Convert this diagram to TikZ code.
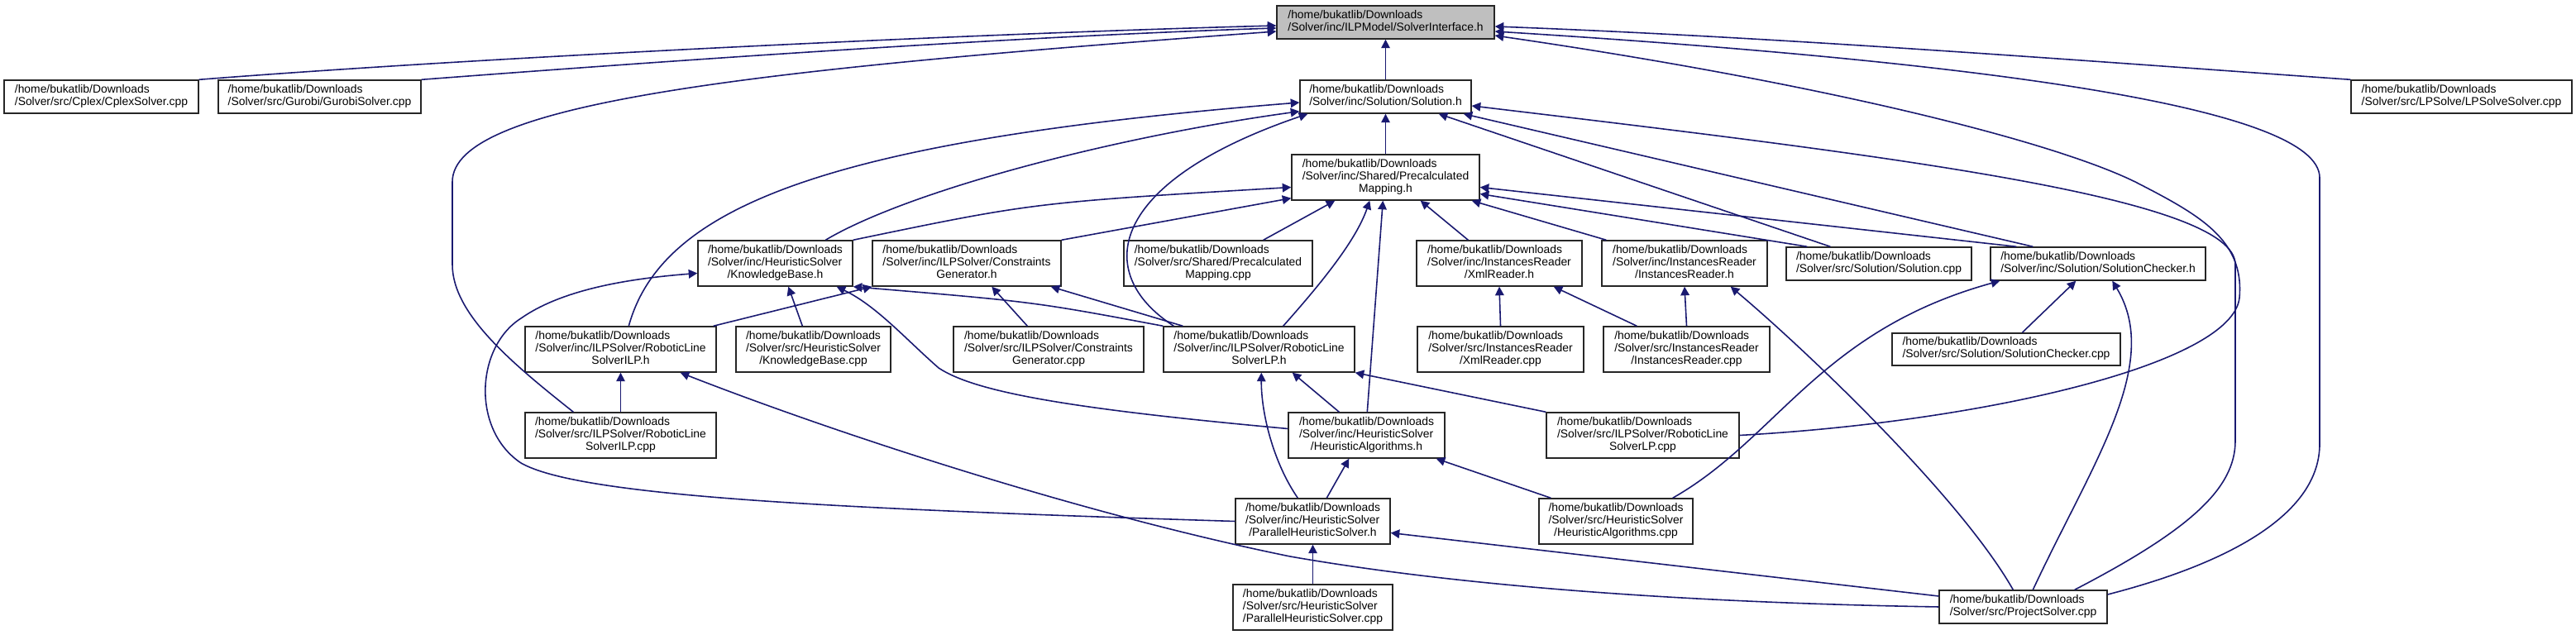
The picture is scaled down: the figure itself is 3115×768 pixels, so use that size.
\documentclass[tikz,border=0pt]{standalone}
\usepackage{fontspec}
\setmainfont{Liberation Sans}
\usetikzlibrary{arrows.meta,calc}
\definecolor{edgecol}{HTML}{191970}
\definecolor{sigray}{HTML}{BFBFBF}
\newcommand{\lastc}[1]{\multicolumn{1}{@{}c@{}}{#1}}
\newcommand{\dbox}[7]{%
 \pgfmathsetmacro\dbcx{(#3+#4)/2}%
 \pgfmathsetmacro\dbcy{(#5+#6)/2}%
 \pgfmathsetmacro\dbw{(#4-#3)*0.01}%
 \pgfmathsetmacro\dbh{(#6-#5)*0.01}%
 \node[#1, minimum width=\dbw cm, minimum height=\dbh cm] (#2) at (\dbcx,\dbcy) {\begin{tabular}{@{}l@{}}#7\end{tabular}};%
}
\tikzset{
 box/.style={draw=black!85, fill=white, line width=0.4pt, inner sep=0pt, font=\fontsize{3.95}{4.27}\selectfont},
 gbox/.style={box, fill=sigray},
 dep/.style={draw=edgecol, line width=0.45pt, -{Triangle[length=3pt,width=3pt]}, edgecol}
}
\begin{document}
\begin{tikzpicture}[x=0.01cm, y=-0.01cm]
\fill[white] (0,0) rectangle (3115,768);
\useasboundingbox (0,0) rectangle (3115,768);
% nodes
\dbox{gbox}{SI}{1544}{1807}{7}{47}{/home/bukatlib/Downloads\\/Solver/inc/ILPModel/SolverInterface.h}
\dbox{box}{Cplex}{5}{240}{97}{137}{/home/bukatlib/Downloads\\/Solver/src/Cplex/CplexSolver.cpp}
\dbox{box}{Gurobi}{264}{509}{97}{137}{/home/bukatlib/Downloads\\/Solver/src/Gurobi/GurobiSolver.cpp}
\dbox{box}{SolH}{1572}{1779}{97}{137}{/home/bukatlib/Downloads\\/Solver/inc/Solution/Solution.h}
\dbox{box}{LPSolve}{2843}{3110}{97}{137}{/home/bukatlib/Downloads\\/Solver/src/LPSolve/LPSolveSolver.cpp}
\dbox{box}{PMh}{1562}{1789}{187}{242}{/home/bukatlib/Downloads\\/Solver/inc/Shared/Precalculated\\\lastc{Mapping.h}}
\dbox{box}{KBh}{844}{1031}{291}{346}{/home/bukatlib/Downloads\\/Solver/inc/HeuristicSolver\\\lastc{/KnowledgeBase.h}}
\dbox{box}{CGh}{1055}{1283}{291}{346}{/home/bukatlib/Downloads\\/Solver/inc/ILPSolver/Constraints\\\lastc{Generator.h}}
\dbox{box}{PMcpp}{1359}{1587}{291}{346}{/home/bukatlib/Downloads\\/Solver/src/Shared/Precalculated\\\lastc{Mapping.cpp}}
\dbox{box}{XRh}{1713}{1913}{291}{346}{/home/bukatlib/Downloads\\/Solver/inc/InstancesReader\\\lastc{/XmlReader.h}}
\dbox{box}{IRh}{1937}{2137}{291}{346}{/home/bukatlib/Downloads\\/Solver/inc/InstancesReader\\\lastc{/InstancesReader.h}}
\dbox{box}{SolCpp}{2160}{2384}{299}{339}{/home/bukatlib/Downloads\\/Solver/src/Solution/Solution.cpp}
\dbox{box}{SCh}{2407}{2667}{299}{339}{/home/bukatlib/Downloads\\/Solver/inc/Solution/SolutionChecker.h}
\dbox{box}{ILPh}{635}{866}{395}{450}{/home/bukatlib/Downloads\\/Solver/inc/ILPSolver/RoboticLine\\\lastc{SolverILP.h}}
\dbox{box}{KBcpp}{890}{1077}{395}{450}{/home/bukatlib/Downloads\\/Solver/src/HeuristicSolver\\\lastc{/KnowledgeBase.cpp}}
\dbox{box}{CGcpp}{1153}{1383}{395}{450}{/home/bukatlib/Downloads\\/Solver/src/ILPSolver/Constraints\\\lastc{Generator.cpp}}
\dbox{box}{LPh}{1407}{1638}{395}{450}{/home/bukatlib/Downloads\\/Solver/inc/ILPSolver/RoboticLine\\\lastc{SolverLP.h}}
\dbox{box}{XRcpp}{1714}{1915}{395}{450}{/home/bukatlib/Downloads\\/Solver/src/InstancesReader\\\lastc{/XmlReader.cpp}}
\dbox{box}{IRcpp}{1939}{2140}{395}{450}{/home/bukatlib/Downloads\\/Solver/src/InstancesReader\\\lastc{/InstancesReader.cpp}}
\dbox{box}{SCcpp}{2288}{2564}{403}{442}{/home/bukatlib/Downloads\\/Solver/src/Solution/SolutionChecker.cpp}
\dbox{box}{ILPcpp}{635}{866}{499}{554}{/home/bukatlib/Downloads\\/Solver/src/ILPSolver/RoboticLine\\\lastc{SolverILP.cpp}}
\dbox{box}{HAh}{1558}{1747}{499}{554}{/home/bukatlib/Downloads\\/Solver/inc/HeuristicSolver\\\lastc{/HeuristicAlgorithms.h}}
\dbox{box}{LPcpp}{1870}{2103}{499}{554}{/home/bukatlib/Downloads\\/Solver/src/ILPSolver/RoboticLine\\\lastc{SolverLP.cpp}}
\dbox{box}{PHSh}{1494}{1681}{603}{658}{/home/bukatlib/Downloads\\/Solver/inc/HeuristicSolver\\\lastc{/ParallelHeuristicSolver.h}}
\dbox{box}{HAcpp}{1861}{2047}{603}{658}{/home/bukatlib/Downloads\\/Solver/src/HeuristicSolver\\\lastc{/HeuristicAlgorithms.cpp}}
\dbox{box}{PHScpp}{1491}{1684}{707}{762}{/home/bukatlib/Downloads\\/Solver/src/HeuristicSolver\\\lastc{/ParallelHeuristicSolver.cpp}}
\dbox{box}{ProjCpp}{2345}{2548}{714}{754}{/home/bukatlib/Downloads\\/Solver/src/ProjectSolver.cpp}
% edges into SolverInterface
\draw[dep] (Cplex.north east) .. controls (600,68) and (1200,40) .. ($(SI.west)+(0,4)$);
\draw[dep] (Gurobi.north east) .. controls (750,78) and (1200,45) .. ($(SI.west)+(0,7)$);
\draw[dep] ($(ILPcpp.north west)+(59,0)$) .. controls (620,440) and (547,380) .. (547,320) -- (547,220) .. controls (547,125) and (900,85) .. ($(SI.west)+(0,11)$);
\draw[dep] (SolH.north) -- (SI.south);
\draw[dep] (LPSolve.north west) .. controls (2500,72) and (2150,45) .. ($(SI.east)+(0,5)$);
\draw[dep] ($(ProjCpp.east)+(0,-15)$) .. controls (2700,680) and (2805,620) .. (2805,537) -- (2805,215) .. controls (2805,130) and (2400,75) .. ($(SI.east)+(0,11)$);
\draw[dep] (LPcpp.east) .. controls (2400,510) and (2700,440) .. (2708,360) .. controls (2714,290) and (2660,260) .. (2582,220) .. controls (2480,170) and (2200,100) .. ($(SI.east)+(0,16)$);
% edges into Solution.h
\draw[dep] ($(ILPh.north west)+(126,0)$) .. controls (800,250) and (1000,170) .. ($(SolH.west)+(0,7)$);
\draw[dep] ($(KBh.north west)+(155,0)$) .. controls (1100,230) and (1350,165) .. ($(SolH.south west)+(0,-3)$);
\draw[dep] ($(LPh.north west)+(13,0)$) .. controls (1320,330) and (1340,220) .. ($(SolH.south west)+(10,0)$);
\draw[dep] (PMh.north) -- (SolH.south);
\draw[dep] ($(SolCpp.north west)+(54,0)$) -- ($(SolH.south east)+(-40,0)$);
\draw[dep] ($(SCh.north west)+(52,0)$) -- ($(SolH.south east)+(-10,0)$);
\draw[dep] ($(ProjCpp.north east)+(-40,0)$) .. controls (2650,640) and (2703,590) .. (2703,533) -- (2703,320) .. controls (2703,240) and (2300,190) .. ($(SolH.east)+(0,11)$);
% edges into PrecalculatedMapping.h
\draw[dep] (KBh.north east) .. controls (1250,245) .. ($(PMh.west)+(0,12)$);
\draw[dep] (CGh.north east) -- ($(PMh.south west)+(0,-3)$);
\draw[dep] ($(PMcpp.north east)+(-60,0)$) -- ($(PMh.south west)+(53,0)$);
\draw[dep] ($(LPh.north east)+(-87,0)$) .. controls (1600,340) and (1640,290) .. ($(PMh.south west)+(95,0)$);
\draw[dep] ($(HAh.north west)+(96,0)$) -- ($(PMh.south west)+(111,0)$);
\draw[dep] ($(XRh.north west)+(63,0)$) -- ($(PMh.south east)+(-72,0)$);
\draw[dep] ($(IRh.north west)+(6,0)$) -- ($(PMh.south east)+(-10,0)$);
\draw[dep] ($(SolCpp.north west)+(26,0)$) -- ($(PMh.east)+(0,20)$);
\draw[dep] ($(SCh.north west)+(32,0)$) -- ($(PMh.east)+(0,12)$);
% edges into KnowledgeBase.h
\draw[dep] (PHSh.west) .. controls (1000,615) and (700,600) .. (630,560) .. controls (570,520) and (575,420) .. (630,385) .. controls (680,350) and (760,337) .. ($(KBh.west)+(0,12)$);
\draw[dep] ($(KBcpp.north west)+(81,0)$) -- ($(KBh.south west)+(110,0)$);
\draw[dep] ($(HAh.west)+(0,-8)$) .. controls (1300,495) and (1180,475) .. (1135,445) .. controls (1095,410) and (1060,370) .. ($(KBh.south east)+(-20,0)$);
\draw[dep] (LPh.north west) .. controls (1250,365) .. (KBh.south east);
% edges into ConstraintsGenerator.h
\draw[dep] ($(ILPh.north east)+(-4,0)$) -- (CGh.south west);
\draw[dep] ($(CGcpp.north west)+(90,0)$) -- ($(CGh.south west)+(145,0)$);
\draw[dep] ($(LPh.north west)+(24,0)$) -- ($(CGh.south east)+(-13,0)$);
% readers
\draw[dep] (XRcpp.north) -- (XRh.south);
\draw[dep] ($(IRcpp.north west)+(41,0)$) -- ($(XRh.south east)+(-35,0)$);
\draw[dep] (IRcpp.north) -- (IRh.south);
\draw[dep] ($(ProjCpp.north west)+(90,0)$) .. controls (2370,600) and (2180,420) .. ($(IRh.south east)+(-45,0)$);
% SolutionChecker.h
\draw[dep] ($(HAcpp.north east)+(-25,0)$) .. controls (2150,530) and (2200,400) .. ($(SCh.south west)+(12,0)$);
\draw[dep] ($(SCcpp.north west)+(158,0)$) -- ($(SCh.south west)+(104,0)$);
\draw[dep] ($(ProjCpp.north west)+(114,0)$) .. controls (2530,560) and (2615,440) .. ($(SCh.south west)+(148,0)$);
% RoboticLineSolverILP.h
\draw[dep] (ILPcpp.north) -- (ILPh.south);
\draw[dep] (ProjCpp.west) .. controls (2100,730) and (1800,715) .. (1560,673) .. controls (1300,620) and (1000,520) .. ($(ILPh.south east)+(-44,0)$);
% RoboticLineSolverLP.h
\draw[dep] ($(PHSh.north west)+(76,0)$) .. controls (1540,560) and (1525,500) .. ($(LPh.south west)+(119,0)$);
\draw[dep] ($(HAh.north west)+(62,0)$) -- ($(LPh.south east)+(-76,0)$);
\draw[dep] (LPcpp.north west) -- (LPh.south east);
% HeuristicAlgorithms.h
\draw[dep] ($(PHSh.north west)+(111,0)$) -- ($(HAh.south west)+(74,0)$);
\draw[dep] ($(HAcpp.north west)+(15,0)$) -- ($(HAh.south east)+(-11,0)$);
% ParallelHeuristicSolver.h
\draw[dep] (PHScpp.north) -- (PHSh.south);
\draw[dep] ($(ProjCpp.west)+(0,-13)$) -- ($(PHSh.east)+(0,14)$);
\end{tikzpicture}
\end{document}
